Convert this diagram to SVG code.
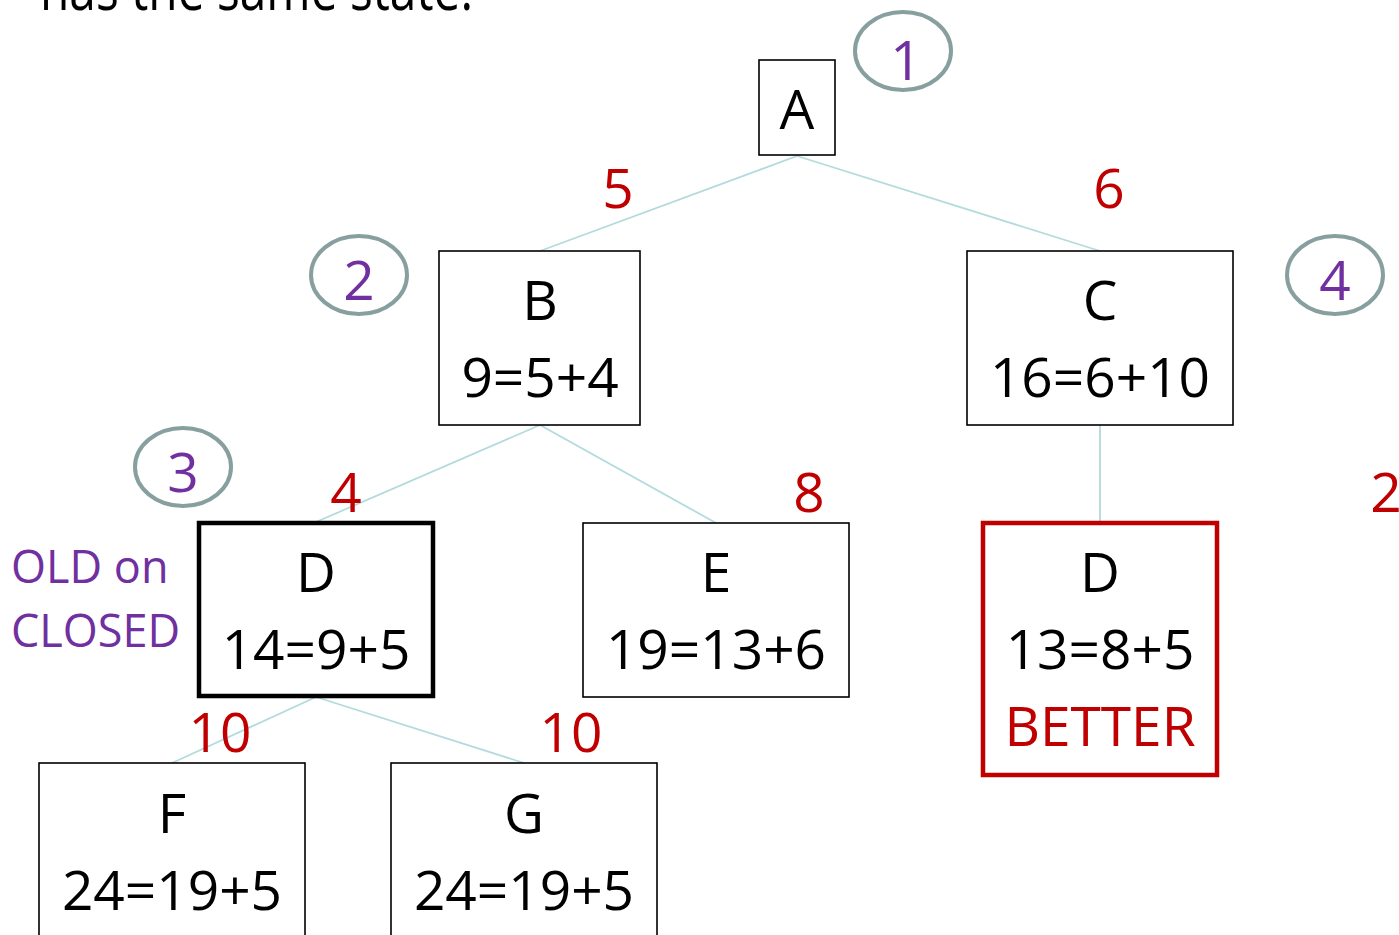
<svg xmlns="http://www.w3.org/2000/svg" width="1399" height="935" viewBox="0 0 1399 935">
  <style>
    text { font-family: "Open Sans", "Noto Sans", sans-serif; }
    .box { fill: #ffffff; stroke: #000000; stroke-width: 1.6; }
    .bold { fill: #ffffff; stroke: #000000; stroke-width: 4.5; }
    .red { fill: #ffffff; stroke: #c00000; stroke-width: 4.5; }
    .lbl { font-size: 55px; fill: #000000; text-anchor: middle; }
    .cost { font-size: 55px; fill: #c00000; text-anchor: middle; }
    .step { fill: none; stroke: #879f9f; stroke-width: 4; }
    .num { font-size: 55px; fill: #7030a0; text-anchor: middle; }
    .note { font-size: 45px; fill: #7030a0; }
    .edge { stroke: #b2dbde; stroke-width: 1.8; fill: none; }
  </style>

  <rect width="1399" height="935" fill="#ffffff"/>

  <!-- heading line running off the top edge -->
  <text x="40" y="10" font-size="60" fill="#000000" textLength="433" lengthAdjust="spacingAndGlyphs">has the same state.</text>

  <!-- connectors -->
  <g id="connectors">
    <line class="edge" x1="797" y1="156" x2="540" y2="251"/>
    <line class="edge" x1="797" y1="156" x2="1100" y2="251"/>
    <line class="edge" x1="540" y1="425" x2="316" y2="522"/>
    <line class="edge" x1="540" y1="425" x2="716" y2="523"/>
    <line class="edge" x1="1100" y1="425" x2="1100" y2="522"/>
    <line class="edge" x1="316" y1="697" x2="172" y2="763"/>
    <line class="edge" x1="316" y1="697" x2="524" y2="763"/>
  </g>

  <!-- edge costs -->
  <g id="costs">
    <text class="cost" x="618" y="208">5</text>
    <text class="cost" x="1109" y="208">6</text>
    <text class="cost" x="346" y="512">4</text>
    <text class="cost" x="809" y="512">8</text>
    <text class="cost" x="1386" y="512">2</text>
    <text class="cost" x="220" y="752">10</text>
    <text class="cost" x="571" y="752">10</text>
  </g>

  <g id="node-A">
    <rect class="box" x="759" y="60" width="76" height="95"/>
    <text class="lbl" x="797" y="129">A</text>
  </g>

  <g id="node-B">
    <rect class="box" x="439" y="251" width="201" height="174"/>
    <text class="lbl" x="540" y="320">B</text>
    <text class="lbl" x="540" y="397">9=5+4</text>
  </g>

  <g id="node-C">
    <rect class="box" x="967" y="251" width="266" height="174"/>
    <text class="lbl" x="1100" y="320">C</text>
    <text class="lbl" x="1100" y="397">16=6+10</text>
  </g>

  <g id="node-D-old">
    <rect class="bold" x="199" y="523" width="234" height="173"/>
    <text class="lbl" x="316" y="592">D</text>
    <text class="lbl" x="316" y="669">14=9+5</text>
  </g>

  <g id="node-E">
    <rect class="box" x="583" y="523" width="266" height="174"/>
    <text class="lbl" x="716" y="592">E</text>
    <text class="lbl" x="716" y="669">19=13+6</text>
  </g>

  <g id="node-D-new">
    <rect class="red" x="983" y="523" width="234" height="252"/>
    <text class="lbl" x="1100" y="592">D</text>
    <text class="lbl" x="1100" y="669">13=8+5</text>
    <text class="lbl" x="1100" y="746" fill="#c00000" style="fill:#c00000">BETTER</text>
  </g>

  <g id="node-F">
    <rect class="box" x="39" y="763" width="266" height="180"/>
    <text class="lbl" x="172" y="833">F</text>
    <text class="lbl" x="172" y="910">24=19+5</text>
  </g>

  <g id="node-G">
    <rect class="box" x="391" y="763" width="266" height="180"/>
    <text class="lbl" x="524" y="833">G</text>
    <text class="lbl" x="524" y="910">24=19+5</text>
  </g>

  <!-- expansion order markers -->
  <g id="step-1">
    <ellipse class="step" cx="903" cy="51" rx="48" ry="39"/>
    <text class="num" x="906" y="80">1</text>
  </g>
  <g id="step-2">
    <ellipse class="step" cx="359" cy="275" rx="48" ry="39"/>
    <text class="num" x="359" y="300">2</text>
  </g>
  <g id="step-3">
    <ellipse class="step" cx="183" cy="467" rx="48" ry="39"/>
    <text class="num" x="183" y="492">3</text>
  </g>
  <g id="step-4">
    <ellipse class="step" cx="1335" cy="275" rx="48" ry="39"/>
    <text class="num" x="1335" y="300">4</text>
  </g>

  <g id="note-old">
    <text class="note" x="11" y="583">OLD on</text>
    <text class="note" x="11" y="647">CLOSED</text>
  </g>
</svg>
